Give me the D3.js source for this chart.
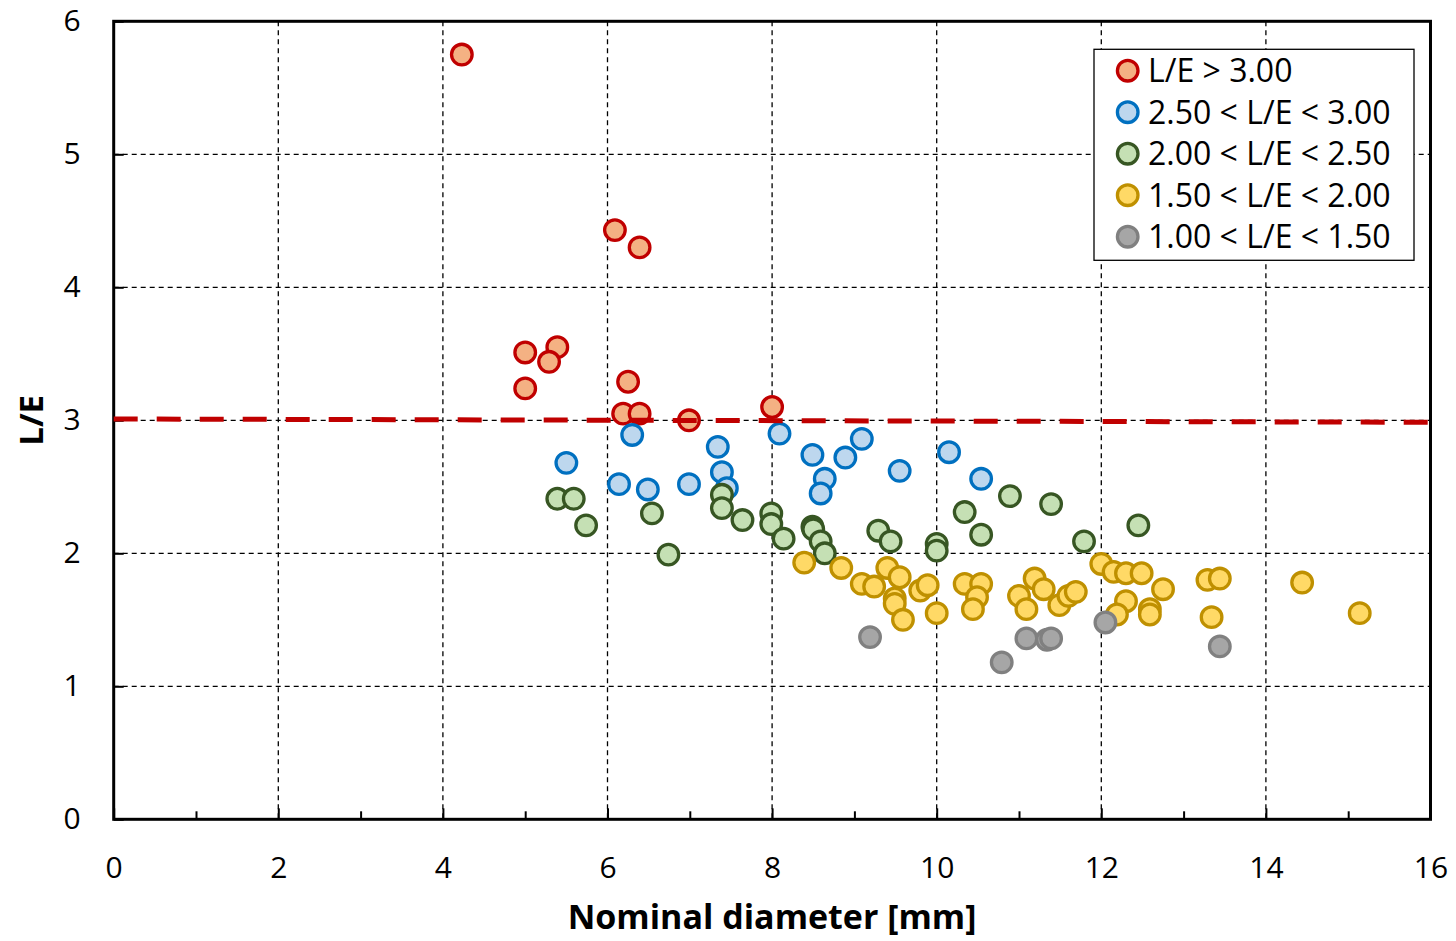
<!DOCTYPE html>
<html>
<head>
<meta charset="utf-8">
<script src="https://cdn.jsdelivr.net/npm/d3@7"></script>
<style>
    body { margin: 0; background: #fff; }
    svg { display: block; font-family: "Open Sans", sans-serif; }
</style>
</head>
<body>
<svg></svg>
<script>
// L/E vs nominal diameter, one array per class
const seriesNames = ["L/E > 3.00", "2.50 < L/E < 3.00", "2.00 < L/E < 2.50", "1.50 < L/E < 2.00", "1.00 < L/E < 1.50"];

const above300 = [[4.23,5.75],[6.09,4.43],[6.39,4.30],[5.00,3.51],[5.39,3.55],[5.29,3.44],[5.00,3.24],
    [6.25,3.29],[6.19,3.05],[6.39,3.05],[6.99,3.00],[8.00,3.10]];

const from250to300 = [[6.30,2.89],[5.50,2.68],[6.14,2.52],[6.49,2.48],[6.99,2.52],[7.34,2.80],[7.39,2.61],
    [7.45,2.49],[8.09,2.90],[8.49,2.74],[8.64,2.56],[8.59,2.45],[8.89,2.72],[9.09,2.86],[9.55,2.62],
    [10.15,2.76],[10.54,2.56]];

const from200to250 = [[5.39,2.41],[5.59,2.41],[5.74,2.21],[6.54,2.30],[6.74,1.99],[7.39,2.44],[7.39,2.34],
    [7.64,2.25],[7.99,2.30],[7.99,2.22],[8.14,2.11],[8.49,2.20],[8.50,2.18],[8.59,2.09],[8.64,2.00],
    [9.29,2.17],[9.44,2.09],[10.00,2.07],[10.00,2.02],[10.34,2.31],[10.54,2.14],[10.89,2.43],[11.39,2.37],
    [11.79,2.09],[12.45,2.21]];

const from150to200 = [[8.39,1.93],[8.84,1.89],[9.09,1.77],[9.24,1.75],[9.40,1.89],[9.55,1.82],[9.49,1.66],
    [9.49,1.62],[9.59,1.50],[9.80,1.72],[9.89,1.76],[10.00,1.55],[10.34,1.77],[10.54,1.77],[10.49,1.67],
    [10.44,1.58],[11.00,1.68],[11.09,1.58],[11.19,1.81],[11.30,1.73],[11.49,1.61],[11.60,1.68],[11.69,1.71],
    [12.00,1.92],[12.15,1.86],[12.30,1.85],[12.49,1.85],[12.75,1.73],[12.30,1.64],[12.19,1.54],[12.59,1.58],
    [12.59,1.54],[13.29,1.80],[13.44,1.81],[13.34,1.52],[14.44,1.78],[15.14,1.55]];

const from100to150 = [[9.19,1.37],[10.79,1.18],[11.09,1.36],[11.34,1.35],[11.39,1.36],[12.05,1.48],[13.44,1.30]];

// limit line L/E = 3 (slightly tilted in the original)
const limitLine = [[0, 3.01], [16, 2.985]];

const xTicks = [0, 2, 4, 6, 8, 10, 12, 14, 16];
const xMinorTicks = [1, 3, 5, 7, 9, 11, 13, 15];
const yTicks = [0, 1, 2, 3, 4, 5, 6];

const fills = ["#F4B183", "#BDD7EE", "#C5E0B4", "#FFD966", "#A6A6A6"];
const strokes = ["#C00000", "#0070C0", "#375623", "#BF9000", "#808080"];

function drawChart() {
    var svgWidth = 1456, svgHeight = 941;
    var margin = { top: 21.3, right: 25.5, bottom: 121.7, left: 113.7 };
    var width = svgWidth - margin.left - margin.right;
    var height = svgHeight - margin.top - margin.bottom;

    var svg = d3.select("svg").attr("width", svgWidth).attr("height", svgHeight);
    var g = svg.append("g").attr("transform", "translate(" + margin.left + "," + margin.top + ")");

    var x = d3.scaleLinear().domain([0, 16]).range([0, width]);
    var y = d3.scaleLinear().domain([0, 6]).range([height, 0]);

    // dashed grid
    g.append("g")
        .selectAll("line")
        .data(xTicks.filter(function(d) { return d > 0 && d < 16; }))
        .join("line")
        .attr("x1", function(d) { return x(d); })
        .attr("x2", function(d) { return x(d); })
        .attr("y1", 0)
        .attr("y2", height)
        .attr("stroke", "#000")
        .attr("stroke-width", 1.3)
        .attr("stroke-dasharray", "5,4");

    g.append("g")
        .selectAll("line")
        .data(yTicks.filter(function(d) { return d > 0 && d < 6; }))
        .join("line")
        .attr("x1", 0)
        .attr("x2", width)
        .attr("y1", function(d) { return y(d); })
        .attr("y2", function(d) { return y(d); })
        .attr("stroke", "#000")
        .attr("stroke-width", 1.3)
        .attr("stroke-dasharray", "5,4");

    // bottom axis, ticks pointing inside
    var xAxis = g.append("g")
        .attr("transform", "translate(0," + height + ")")
        .call(d3.axisBottom(x).tickValues(xTicks).tickSize(-11).tickPadding(26));
    xAxis.select(".domain").remove();
    xAxis.selectAll("line").attr("stroke-width", 2);
    xAxis.selectAll("text")
        .attr("font-size", 30)
        .attr("font-family", "Open Sans")
        .attr("fill", "#000")
        .attr("dy", "1.1em");

    g.append("g")
        .attr("transform", "translate(0," + height + ")")
        .call(d3.axisBottom(x).tickValues(xMinorTicks).tickSize(-8).tickFormat(""))
        .call(function(a) { a.select(".domain").remove(); })
        .selectAll("line").attr("stroke-width", 2);

    var yAxis = g.append("g")
        .call(d3.axisLeft(y).tickValues(yTicks).tickFormat(d3.format("d")).tickSize(-10).tickPadding(33));
    yAxis.select(".domain").remove();
    yAxis.selectAll("line").attr("stroke-width", 2);
    yAxis.selectAll("text")
        .attr("font-size", 30)
        .attr("font-family", "Open Sans")
        .attr("fill", "#000");

    // frame
    g.append("rect")
        .attr("width", width)
        .attr("height", height)
        .attr("fill", "none")
        .attr("stroke", "#000")
        .attr("stroke-width", 3);

    // points
    var allSeries = [above300, from250to300, from200to250, from150to200, from100to150];
    allSeries.forEach(function(pts, i) {
        g.append("g")
            .selectAll("circle")
            .data(pts)
            .join("circle")
            .attr("cx", function(d) { return x(d[0]); })
            .attr("cy", function(d) { return y(d[1]); })
            .attr("r", 10.3)
            .attr("fill", fills[i])
            .attr("stroke", strokes[i])
            .attr("stroke-width", 3.3);
    });

    // L/E = 3 line
    g.append("path")
        .datum(limitLine)
        .attr("fill", "none")
        .attr("stroke", "#C00000")
        .attr("stroke-width", 5)
        .attr("stroke-dasharray", "24,19")
        .attr("d", d3.line().x(function(d) { return x(d[0]); }).y(function(d) { return y(d[1]); }));

    // axis titles
    svg.append("text")
        .attr("x", margin.left + width / 2)
        .attr("y", 929)
        .attr("text-anchor", "middle")
        .attr("font-size", 34)
        .attr("font-weight", "bold")
        .text("Nominal diameter [mm]");

    svg.append("text")
        .attr("transform", "translate(43," + (margin.top + y(3)) + ") rotate(-90)")
        .attr("text-anchor", "middle")
        .attr("font-size", 33)
        .attr("font-weight", "bold")
        .text("L/E");

    // legend
    var legend = svg.append("g").attr("transform", "translate(1094,49.3)");
    legend.append("rect")
        .attr("width", 320)
        .attr("height", 211)
        .attr("fill", "#fff")
        .attr("stroke", "#000")
        .attr("stroke-width", 1.3);

    var item = legend.selectAll("g.item")
        .data(seriesNames)
        .join("g")
        .attr("class", "item")
        .attr("transform", function(d, i) { return "translate(0," + (21.4 + i * 41.5) + ")"; });

    item.append("circle")
        .attr("cx", 33.7)
        .attr("r", 10.3)
        .attr("fill", function(d, i) { return fills[i]; })
        .attr("stroke", function(d, i) { return strokes[i]; })
        .attr("stroke-width", 3.3);

    item.append("text")
        .attr("x", 54)
        .attr("dy", "0.36em")
        .attr("font-size", 32)
        .text(function(d) { return d; });
}

drawChart();
</script>
</body>
</html>
